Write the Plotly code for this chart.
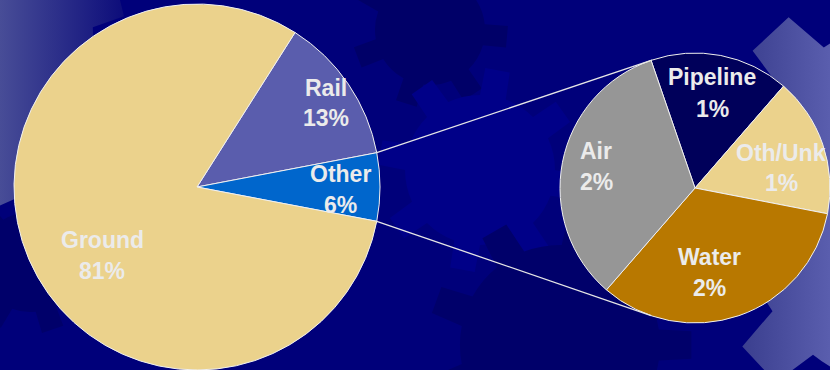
import math
import base64
import plotly.graph_objects as go

# ---------------- data ----------------
main_labels = ["Rail", "Other", "Ground"]
main_values = [13, 6, 81]
detail_labels = ["Pipeline", "Oth/Unk", "Water", "Air"]
detail_values = [1, 1, 2, 2]   # share of total (%), breakdown of "Other"

# ---------------- styles ----------------
main_colors = ["#5A5DAD", "#0066CC", "#EBD28C"]
detail_colors = ["#00005A", "#EBD28C", "#B87800", "#969696"]
TEXT_COLOR = "#EBEBEB"
FONT = "Liberation Sans, Arial, sans-serif"

W, H = 830, 370
L_CX, L_CY, L_R = 197, 187, 183
R_CX, R_CY, R_R = 695, 188, 135

main_label_pos = {"Rail": (326, 103), "Other": (340, 189), "Ground": (102, 255)}
detail_label_pos = {"Pipeline": (712, 93), "Oth/Unk": (781, 168),
                    "Water": (709, 272), "Air": (596, 167)}

main_total = sum(main_values)
other_idx = main_labels.index("Other")
main_rotation = 90 - 360 * (sum(main_values[:other_idx]) + main_values[other_idx] / 2) / main_total
detail_rotation = -19


def dom(cx, cy, r):
    return dict(x=[max(0, (cx - r) / W), min(1, (cx + r) / W)],
                y=[max(0, (H - cy - r) / H), min(1, (H - cy + r) / H)])


# ---------------- background (decorative gears) ----------------
def gear_path(cx, cy, r_in, r_out, n, phase, tooth, taper=3.0):
    step = 360.0 / n
    pts = []
    for i in range(n):
        a = phase + i * step
        pts.append([(r_in, a - tooth / 2 - taper), (r_out, a - tooth / 2),
                    (r_out, a + tooth / 2), (r_in, a + tooth / 2 + taper)])

    def xy(r, ang):
        t = math.radians(ang)
        return cx + r * math.cos(t), cy + r * math.sin(t)

    d = ""
    for i, tp in enumerate(pts):
        for j, (r, ang) in enumerate(tp):
            x, y = xy(r, ang)
            if i == 0 and j == 0:
                d += f"M{x:.1f},{y:.1f} "
            elif j == 0:
                d += f"A{r_in},{r_in} 0 0 1 {x:.1f},{y:.1f} "
            else:
                d += f"L{x:.1f},{y:.1f} "
    x, y = xy(*pts[0][0])
    d += f"A{r_in},{r_in} 0 0 1 {x:.1f},{y:.1f} Z"
    return d


gears = [
    (gear_path(430, 30, 55, 78, 7, 5, 16), "#000068"),
    (gear_path(480, 170, 75, 102, 8, 10, 14), "#000088"),
    (gear_path(560, 345, 100, 132, 9, 0, 12), "#00006A"),
    (gear_path(30, 262, 50, 72, 7, 20, 18), "#00006A"),
    (gear_path(-55, 35, 148, 180, 9, -14, 16), "url(#gL)"),
    (gear_path(930, 205, 190, 235, 8, 227, 12), "url(#gR)"),
]
svg = (
    f"<svg xmlns='http://www.w3.org/2000/svg' width='{W}' height='{H}' viewBox='0 0 {W} {H}'>"
    "<defs>"
    "<linearGradient id='gL' x1='0' y1='0' x2='125' y2='0' gradientUnits='userSpaceOnUse'>"
    "<stop offset='0' stop-color='#484D97'/><stop offset='1' stop-color='#0C0C7A'/></linearGradient>"
    "<linearGradient id='gR' x1='730' y1='0' x2='830' y2='0' gradientUnits='userSpaceOnUse'>"
    "<stop offset='0' stop-color='#363A8A'/><stop offset='1' stop-color='#5A5EAE'/></linearGradient>"
    "</defs>"
    f"<rect width='{W}' height='{H}' fill='#00007A'/>"
    + "".join(f"<path d='{d}' fill='{c}'/>" for d, c in gears)
    + "</svg>"
)
bg_src = "data:image/svg+xml;base64," + base64.b64encode(svg.encode()).decode()

# ---------------- figure ----------------
fig = go.Figure()
fig.add_trace(go.Pie(
    labels=main_labels, values=main_values, sort=False, direction="clockwise",
    rotation=main_rotation, textinfo="none", hoverinfo="label+percent",
    marker=dict(colors=main_colors, line=dict(color="#F0F0F0", width=1)),
    domain=dom(L_CX, L_CY, L_R), showlegend=False,
))
fig.add_trace(go.Pie(
    labels=detail_labels, values=detail_values, sort=False, direction="clockwise",
    rotation=detail_rotation, textinfo="none", hoverinfo="label+value",
    marker=dict(colors=detail_colors, line=dict(color="#F0F0F0", width=1)),
    domain=dom(R_CX, R_CY, R_R), showlegend=False,
))

annotations = []


def add_label(name, pct, pos):
    x, y = pos
    for txt, yy in ((name, y - 15.5), (pct, y + 15.5)):
        annotations.append(dict(
            text=f"<b>{txt}</b>", x=x / W, y=1 - yy / H, xref="paper", yref="paper",
            xanchor="center", yanchor="middle", showarrow=False,
            font=dict(family=FONT, size=23, color=TEXT_COLOR),
        ))


for lab, v in zip(main_labels, main_values):
    add_label(lab, f"{round(100 * v / main_total)}%", main_label_pos[lab])
for lab, v in zip(detail_labels, detail_values):
    add_label(lab, f"{v}%", detail_label_pos[lab])


# connector lines from the "Other" slice to the detail pie (tangents)
def pt_on(cx, cy, r, ang_deg):
    a = math.radians(ang_deg)
    return cx + r * math.sin(a), cy - r * math.cos(a)


def tangent(P, C, r, upper):
    dx, dy = C[0] - P[0], C[1] - P[1]
    d = math.hypot(dx, dy)
    th = math.asin(r / d)
    base = math.atan2(dy, dx)
    L = math.sqrt(d * d - r * r)
    cands = [(P[0] + L * math.cos(base + s * th), P[1] + L * math.sin(base + s * th)) for s in (1, -1)]
    return min(cands, key=lambda t: t[1]) if upper else max(cands, key=lambda t: t[1])


a_start = main_rotation + 360 * sum(main_values[:other_idx]) / main_total
a_end = a_start + 360 * main_values[other_idx] / main_total
P1 = pt_on(L_CX, L_CY, L_R, a_start)
P2 = pt_on(L_CX, L_CY, L_R, a_end)
T1 = tangent(P1, (R_CX, R_CY), R_R, True)
T2 = tangent(P2, (R_CX, R_CY), R_R, False)

shapes = []
for A, B in ((P1, T1), (P2, T2)):
    shapes.append(dict(type="line", xref="paper", yref="paper",
                       x0=A[0] / W, y0=1 - A[1] / H, x1=B[0] / W, y1=1 - B[1] / H,
                       line=dict(color="#E6E6E6", width=1.3), layer="above"))

fig.update_layout(
    width=W, height=H, margin=dict(l=0, r=0, t=0, b=0),
    paper_bgcolor="#00007A", plot_bgcolor="#00007A",
    showlegend=False, annotations=annotations, shapes=shapes,
    images=[dict(source=bg_src, xref="paper", yref="paper", x=0, y=1,
                 sizex=1, sizey=1, xanchor="left", yanchor="top",
                 sizing="stretch", layer="below")],
)

fig.write_html("out.html")
